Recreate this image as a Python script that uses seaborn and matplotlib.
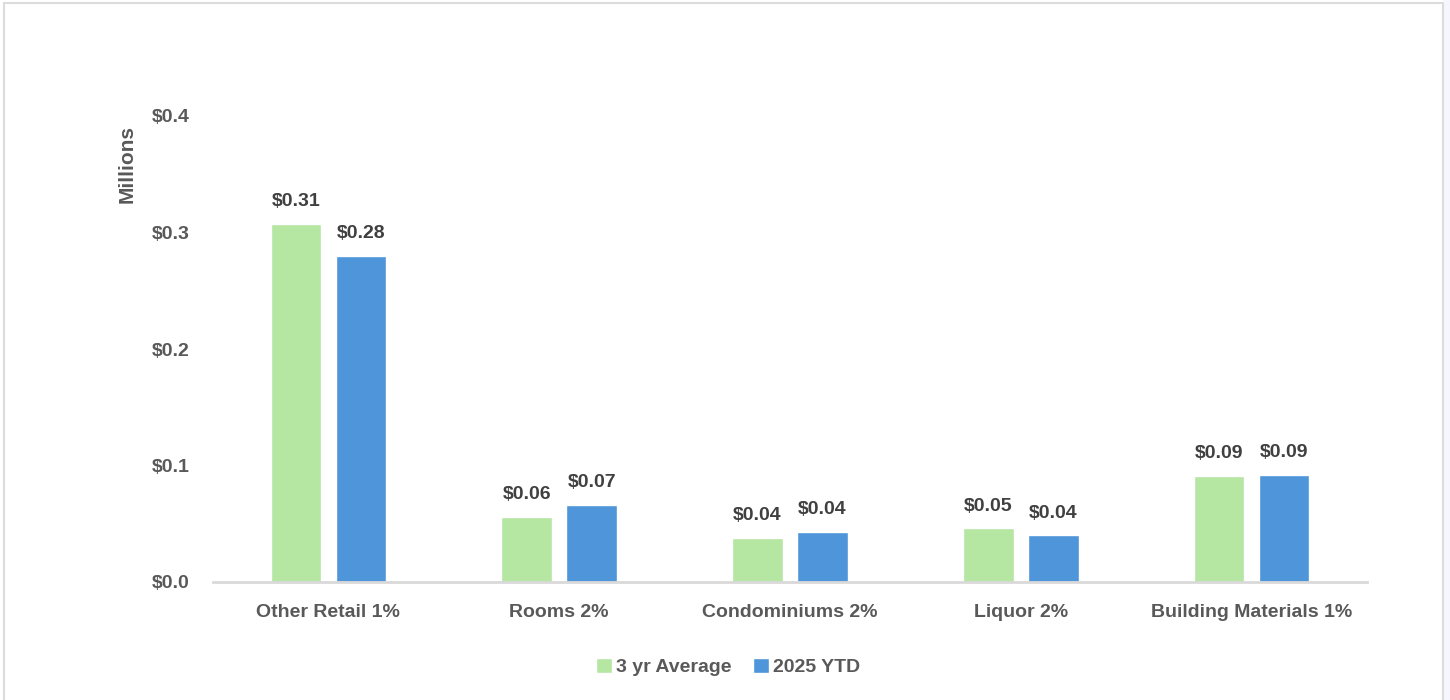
import matplotlib
matplotlib.use("Agg")
import matplotlib.pyplot as plt
import seaborn as sns
import pandas as pd
from matplotlib.patches import Rectangle

# -----------------------------
# DATA (millions)
# -----------------------------
categories = ["Other Retail 1%", "Rooms 2%", "Condominiums 2%", "Liquor 2%", "Building Materials 1%"]
avg_3yr = [0.307, 0.056, 0.038, 0.046, 0.091]
ytd_2025 = [0.280, 0.066, 0.043, 0.040, 0.092]
series_names = ["3 yr Average", "2025 YTD"]
y_ticks = [0.0, 0.1, 0.2, 0.3, 0.4]

df = pd.DataFrame({
    "category": categories * 2,
    "series": [series_names[0]] * len(categories) + [series_names[1]] * len(categories),
    "value": avg_3yr + ytd_2025,
})

# -----------------------------
# STYLE
# -----------------------------
sns.set_theme(style="white")
plt.rcParams["font.family"] = ["Liberation Sans", "DejaVu Sans"]
plt.rcParams["font.weight"] = "bold"

green = "#b5e6a2"
blue = "#4e95d9"
tick_grey = "#595959"
label_grey = "#404040"

fig = plt.figure(figsize=(14.5, 7), dpi=100)
fig.patch.set_facecolor("white")

# frame + light strip on the right like the screenshot
fig.patches.append(Rectangle((1443 / 1450, 0), 7 / 1450, 1, transform=fig.transFigure,
                             facecolor="#f4f7fb", edgecolor="none", zorder=0))
fig.patches.append(Rectangle((4 / 1450, -0.01), 1439 / 1450, 1 - 3 / 700 + 0.01,
                             transform=fig.transFigure, facecolor="none",
                             edgecolor="#dcdcdc", linewidth=1.5, zorder=1))

ax = fig.add_axes([213 / 1450, 1 - 582 / 700, (1367 - 213) / 1450, (582 - 116) / 700])

sns.barplot(data=df, x="category", y="value", hue="series",
            palette=[green, blue], width=0.563, gap=0.22,
            saturation=1, ax=ax, legend=False)

for container, vals in zip(ax.containers, [avg_3yr, ytd_2025]):
    ax.bar_label(container, labels=[f"${v:.2f}" for v in vals], padding=10,
                 fontsize=14, fontweight="bold", color=label_grey)

ax.set_ylim(0, 0.4)
ax.set_yticks(y_ticks)
ax.set_yticklabels([f"${t:.1f}" for t in y_ticks])
ax.set_xlim(-0.5, len(categories) - 0.5)
ax.tick_params(axis="y", length=0, pad=17, labelsize=14, labelcolor=tick_grey)
ax.tick_params(axis="x", length=0, pad=16, labelsize=14, labelcolor=tick_grey)
for lab in ax.get_xticklabels() + ax.get_yticklabels():
    lab.set_fontweight("bold")
ax.set_xlabel("")
ax.set_ylabel("")

sns.despine(ax=ax, left=True)
ax.spines["bottom"].set_color("#d9d9d9")
ax.spines["bottom"].set_linewidth(2)

fig.text(127 / 1450, 1 - 164 / 700, "Millions", rotation=90, ha="center", va="center",
         fontsize=15, fontweight="bold", color=tick_grey)

handles = [Rectangle((0, 0), 1, 1, facecolor=c) for c in [green, blue]]
leg = fig.legend(handles, series_names, loc="center", bbox_to_anchor=(728 / 1450, 1 - 667 / 700),
                 ncol=2, frameon=False, fontsize=14, handlelength=0.85, handleheight=0.85,
                 handletextpad=0.2, columnspacing=1.1)
for t in leg.get_texts():
    t.set_color(tick_grey)
    t.set_fontweight("bold")

fig.savefig("out.png", dpi=100, facecolor="white")
